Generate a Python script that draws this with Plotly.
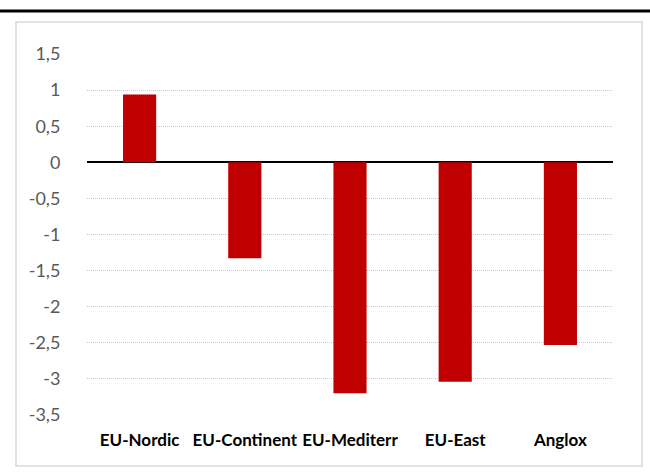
import plotly.graph_objects as go

categories = ["EU-Nordic", "EU-Continent", "EU-Mediterr", "EU-East", "Anglox"]
values = [0.94, -1.33, -3.2, -3.04, -2.53]
y_tickvals = [1.5, 1, 0.5, 0, -0.5, -1, -1.5, -2, -2.5, -3, -3.5]
y_ticktext = ["1,5", "1", "0,5", "0", "-0,5", "-1", "-1,5", "-2", "-2,5", "-3", "-3,5"]

fig = go.Figure()
fig.add_trace(go.Bar(x=categories, y=values, marker=dict(color="#C00000", line=dict(width=0)),
                     width=0.315))

fig.update_layout(
    width=650, height=475,
    margin=dict(l=87, r=37, t=54, b=60),
    paper_bgcolor="white", plot_bgcolor="white",
    showlegend=False,
    font=dict(family="Lato, Open Sans, sans-serif"),
)
fig.update_yaxes(
    range=[-3.5, 1.5], tickvals=y_tickvals, ticktext=y_ticktext,
    showgrid=True, gridcolor="#c8c8c8", griddash="1px,1px", gridwidth=1,
    zeroline=True, zerolinecolor="black", zerolinewidth=2,
    tickfont=dict(size=18, color="#595959", family="Lato, sans-serif"),
    ticks="outside", ticklen=22, tickcolor="rgba(0,0,0,0)",
    showline=False,
)
fig.update_xaxes(
    showgrid=False, showline=False, zeroline=False,
    tickfont=dict(size=17, color="black", family="Lato, sans-serif", weight="bold"),
    ticks="outside", ticklen=10, tickcolor="rgba(0,0,0,0)",
)
# top black rule and light gray chart border
fig.add_shape(type="line", xref="paper", yref="paper", x0=-87/526, x1=(650-87)/526,
              y0=1 + (54-11)/361, y1=1 + (54-11)/361, line=dict(color="black", width=3))
fig.add_shape(type="rect", xref="paper", yref="paper",
              x0=(16-87)/526, x1=(642-87)/526,
              y0=-(466-415)/361, y1=1 + (54-22)/361,
              line=dict(color="#d9d9d9", width=1.5), fillcolor="rgba(0,0,0,0)", layer="below")

fig.write_html("out.html", config={"displayModeBar": False},
               post_script="document.body.style.margin='0';")
